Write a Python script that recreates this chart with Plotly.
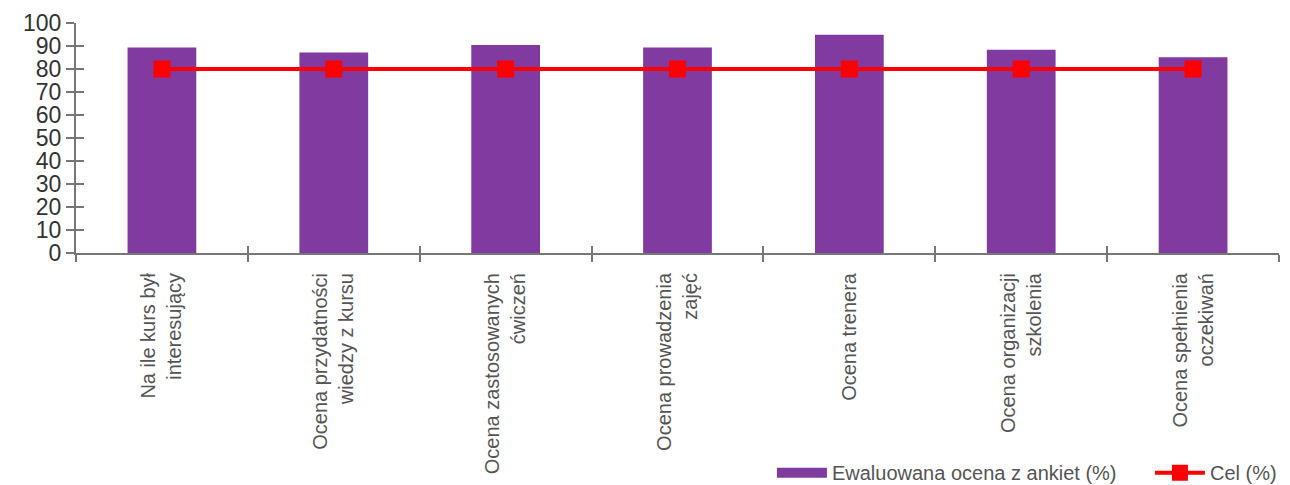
import plotly.graph_objects as go

categories = [
    "Na ile kurs był<br>interesujący",
    "Ocena przydatności<br>wiedzy z kursu",
    "Ocena zastosowanych<br>ćwiczeń",
    "Ocena prowadzenia<br>zajęć",
    "Ocena trenera",
    "Ocena organizacji<br>szkolenia",
    "Ocena spełnienia<br>oczekiwań",
]
ocena = [89.4, 87.2, 90.4, 89.4, 94.9, 88.4, 85.1]
cel = [80, 80, 80, 80, 80, 80, 80]
y_ticks = list(range(0, 101, 10))
bar_name = "Ewaluowana ocena z ankiet (%)"
line_name = "Cel (%)"

PURPLE = "#803AA0"
RED = "#FF0000"
AXIS = "#777777"
FONT = "Liberation Sans, Arial, sans-serif"

fig = go.Figure()
fig.add_trace(go.Bar(
    x=categories, y=ocena, marker=dict(color=PURPLE, line=dict(width=0)),
    showlegend=False, name=bar_name,
))
# legend stand-in for the bar swatch (wide flat rectangle)
fig.add_trace(go.Scatter(
    x=[None], y=[None], mode="lines", name=bar_name,
    line=dict(color=PURPLE, width=10),
))
fig.add_trace(go.Scatter(
    x=categories, y=cel, mode="lines+markers", name=line_name,
    line=dict(color=RED, width=4),
    marker=dict(symbol="square", size=17, color=RED),
))
# invisible trace so the overlay axes (crossing tick marks) get drawn
fig.add_trace(go.Scatter(
    x=[None], y=[None], xaxis="x2", yaxis="y2", showlegend=False,
    hoverinfo="skip", mode="markers",
))

n = len(categories)
boundaries = [i - 0.5 for i in range(n + 1)]

# the page body has an 8px offset; margins compensate for it
fig.update_layout(
    width=1290, height=485,
    margin=dict(l=68, r=19, t=15, b=240, autoexpand=False),
    paper_bgcolor="white", plot_bgcolor="white",
    font=dict(family=FONT, color="#444444"),
    bargap=0.6,
    showlegend=True,
    legend=dict(
        orientation="h", x=0.5785, y=-0.955, xanchor="left", yanchor="middle",
        font=dict(size=20, color="#555555"), bgcolor="rgba(0,0,0,0)",
        itemwidth=50, tracegroupgap=0, entrywidth=313,
    ),
    xaxis=dict(
        type="category", showgrid=False, showline=True, linecolor=AXIS, linewidth=2,
        ticks="outside", tickson="boundaries", ticklen=7, tickcolor=AXIS, tickwidth=2,
        tickangle=-90, tickfont=dict(size=20, color="#555555"),
        ticklabelstandoff=10, automargin=False,
        range=[-0.5, n - 0.5],
    ),
    xaxis2=dict(
        overlaying="x", anchor="y", type="linear", range=[-0.5, n - 0.5],
        tickvals=boundaries, ticks="inside", ticklen=7, tickcolor=AXIS, tickwidth=2,
        showticklabels=False, showgrid=False, showline=False, zeroline=False,
        side="bottom", automargin=False,
    ),
    yaxis=dict(
        range=[0, 100], tickvals=y_ticks, showgrid=False, zeroline=False,
        showline=True, linecolor=AXIS, linewidth=2,
        ticks="outside", ticklen=8, tickcolor=AXIS, tickwidth=2,
        tickfont=dict(size=23, color="#333333"), automargin=False,
    ),
    yaxis2=dict(
        overlaying="y", anchor="x", side="left", range=[0, 100], tickvals=y_ticks,
        ticks="inside", ticklen=8, tickcolor=AXIS, tickwidth=2,
        showticklabels=False, showgrid=False, showline=False, zeroline=False,
        automargin=False,
    ),
)

fig.write_html("out.html")
